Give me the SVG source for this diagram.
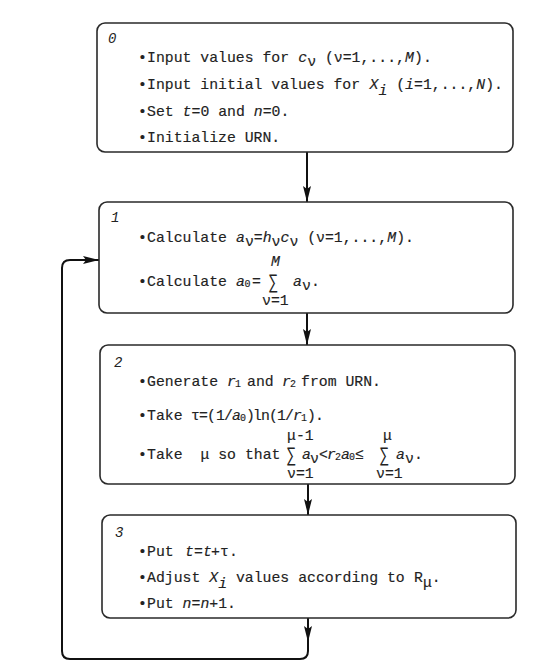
<svg xmlns="http://www.w3.org/2000/svg" width="536" height="670" viewBox="0 0 536 670">
<style>
.bg{fill:#fff}
.box{fill:#fff;stroke:#2a2a2a;stroke-width:1.6}
.t{font-family:"Liberation Mono","DejaVu Sans Mono",monospace;font-size:14.8px;fill:#222;stroke:#222;stroke-width:0.15}
.i{font-style:italic}
.sm{font-size:10px}
.sum{font-family:"Liberation Mono","DejaVu Sans Mono",monospace;font-size:14px;fill:#222}
.lab{font-family:"Liberation Mono","DejaVu Sans Mono",monospace;font-style:italic;font-size:14px;fill:#222}
.con{fill:none;stroke:#111;stroke-width:2}
</style>
<defs>
<marker id="ah" markerUnits="userSpaceOnUse" markerWidth="16" markerHeight="8" refX="16" refY="4" orient="auto">
<path d="M0,0 L16,4 L0,8 L3,4 z" fill="#111"/>
</marker>
</defs>
<rect class="bg" x="0" y="0" width="536" height="670"/>

<g id="connectors">
<path class="con" d="M307,152 V202" marker-end="url(#ah)"/>
<path class="con" d="M307,313 V345" marker-end="url(#ah)"/>
<path class="con" d="M308,484 V515" marker-end="url(#ah)"/>
<path class="con" d="M308,618 V642" marker-end="url(#ah)"/>
<path class="con" d="M308,638 V651 Q308,659 300,659 H70 Q62,659 62,651 V268 Q62,260 70,260 H99" marker-end="url(#ah)"/>
</g>

<g id="step0">
<rect class="box" x="97" y="23" width="416" height="129" rx="8"/>
<text class="lab" x="108" y="43">0</text>
<text class="t" y="62"><tspan x="138">•</tspan><tspan x="147">Input values for </tspan><tspan class="i" x="298.3">c</tspan><tspan x="307.2" dy="4">ν</tspan><tspan x="316.1" dy="-4"> (ν=1,...,</tspan><tspan class="i" x="405.1">M</tspan><tspan x="414">).</tspan></text>
<text class="t" y="89"><tspan x="138">•</tspan><tspan x="147">Input initial values for </tspan><tspan class="i" x="369.5">X</tspan><tspan class="i" x="378.4" dy="6">i</tspan><tspan x="396.2" dy="-6">(</tspan><tspan class="i" x="405.1">i</tspan><tspan x="414">=1,...,</tspan><tspan class="i" x="476.3">N</tspan><tspan x="485.2">).</tspan></text>
<text class="t" y="116"><tspan x="138">•</tspan><tspan x="147">Set </tspan><tspan class="i" x="182.6">t</tspan><tspan x="191.5">=0 and </tspan><tspan class="i" x="253.8">n</tspan><tspan x="262.7">=0.</tspan></text>
<text class="t" y="142"><tspan x="138">•</tspan><tspan x="147">Initialize URN.</tspan></text>
</g>

<g id="step1">
<rect class="box" x="99" y="202" width="414" height="111" rx="8"/>
<text class="lab" x="111" y="222">1</text>
<text class="t" y="242"><tspan x="138">•</tspan><tspan x="147">Calculate </tspan><tspan class="i" x="236">a</tspan><tspan x="244.9" dy="4">ν</tspan><tspan x="253.8" dy="-4">=</tspan><tspan class="i" x="262.7">h</tspan><tspan x="271.6" dy="4">ν</tspan><tspan class="i" x="280.5" dy="-4">c</tspan><tspan x="289.4" dy="4">ν</tspan><tspan x="298.3" dy="-4"> (ν=1,...,</tspan><tspan class="i" x="387.3">M</tspan><tspan x="396.2">).</tspan></text>
<text class="t" y="286"><tspan x="138">•</tspan><tspan x="147">Calculate </tspan><tspan class="i" x="236">a</tspan><tspan class="sm" x="244.5" dy="1">0</tspan><tspan x="252" dy="-1">=</tspan><tspan class="i" x="293">a</tspan><tspan x="302" dy="4">ν</tspan><tspan x="311" dy="-4">.</tspan></text>
<text class="sum" transform="translate(269,288) scale(1,1.45)">∑</text>
<text class="t i" x="271" y="266">M</text>
<text class="t" x="262" y="305">ν=1</text>
</g>

<g id="step2">
<rect class="box" x="100" y="345" width="415" height="139" rx="8"/>
<text class="lab" x="114" y="367">2</text>
<text class="t" y="386"><tspan x="138">•</tspan><tspan x="147">Generate </tspan><tspan class="i" x="227">r</tspan><tspan class="sm" x="235" dy="1">1</tspan><tspan x="247" dy="-1">and </tspan><tspan class="i" x="282">r</tspan><tspan class="sm" x="290" dy="1">2</tspan><tspan x="301" dy="-1">from URN.</tspan></text>
<text class="t" y="420"><tspan x="138">•</tspan><tspan x="147">Take </tspan><tspan x="191">τ</tspan><tspan x="199 207 216 224">=(1/</tspan><tspan class="i" x="232">a</tspan><tspan class="sm" x="240" dy="1">0</tspan><tspan x="246 253 261 269 277 285" dy="-1">)ln(1/</tspan><tspan class="i" x="293">r</tspan><tspan class="sm" x="301" dy="1">1</tspan><tspan x="307 315" dy="-1">).</tspan></text>
<text class="t" y="459"><tspan x="138">•</tspan><tspan x="147">Take</tspan><tspan x="200.4">μ</tspan><tspan x="218.2">so</tspan><tspan x="244.9">that</tspan><tspan class="i" x="302">a</tspan><tspan x="310" dy="4">ν</tspan><tspan x="319" dy="-4">&lt;</tspan><tspan class="i" x="327">r</tspan><tspan class="sm" x="335" dy="1">2</tspan><tspan class="i" x="341" dy="-1">a</tspan><tspan class="sm" x="349" dy="1">0</tspan><tspan x="355" dy="-1">≤</tspan><tspan class="i" x="396">a</tspan><tspan x="405" dy="4">ν</tspan><tspan x="414" dy="-4">.</tspan></text>
<text class="sum" transform="translate(287,461) scale(1,1.45)">∑</text>
<text class="sum" transform="translate(380,461) scale(1,1.45)">∑</text>
<text class="t" x="287" y="440">μ-1</text>
<text class="t" x="287" y="478">ν=1</text>
<text class="t" x="383" y="440">μ</text>
<text class="t" x="376" y="478">ν=1</text>
</g>

<g id="step3">
<rect class="box" x="102" y="515" width="414" height="103" rx="8"/>
<text class="lab" x="115" y="537">3</text>
<text class="t" y="556"><tspan x="138">•</tspan><tspan x="147">Put </tspan><tspan class="i" x="185">t</tspan><tspan x="194">=</tspan><tspan class="i" x="203">t</tspan><tspan x="211">+</tspan><tspan x="220">τ</tspan><tspan x="229">.</tspan></text>
<text class="t" y="582"><tspan x="138">•</tspan><tspan x="147">Adjust </tspan><tspan class="i" x="209.3">X</tspan><tspan class="i" x="218.2" dy="6">i</tspan><tspan x="227.1" dy="-6"> values according to </tspan><tspan x="414">R</tspan><tspan x="422.9" dy="5">μ</tspan><tspan x="431.8" dy="-5">.</tspan></text>
<text class="t" y="608"><tspan x="138">•</tspan><tspan x="147">Put </tspan><tspan class="i" x="182.6">n</tspan><tspan x="191.5">=</tspan><tspan class="i" x="200.4">n</tspan><tspan x="209.3">+1.</tspan></text>
</g>
</svg>
